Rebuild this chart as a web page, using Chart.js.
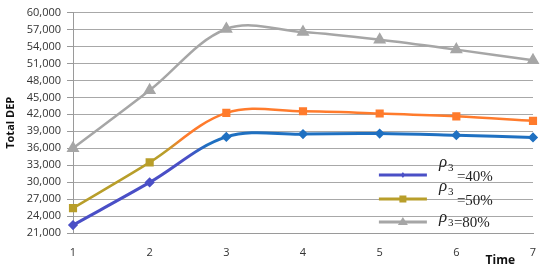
<!DOCTYPE html>
<html>
<head>
<meta charset="utf-8">
<script src="https://cdn.jsdelivr.net/npm/chart.js@4"></script>
<style>
  html, body { margin: 0; padding: 0; background: #fff; }
  #wrap { width: 550px; height: 273px; }
</style>
</head>
<body>
<div id="wrap"><canvas id="myChart"></canvas></div>
<script>
const times = ['1', '2', '3', '4', '5', '6', '7'];
const dep40 = [22400, 29950, 38000, 38500, 38600, 38300, 37900];
const dep50 = [25400, 33500, 42250, 42550, 42150, 41650, 40850];
const dep80 = [36000, 46250, 57100, 56550, 55200, 53450, 51550];
const shares = ['=40%', '=50%', '=80%'];
const xTitle = 'Time';
const yTitle = 'Total DEP';

// left part of the picture is tinted differently from the right part
const leftCols = ['#4a4fc6', '#b89e2a', '#a6a6a6'];
const rightCols = ['#1f70c1', '#ff7b2c', '#a6a6a6'];

function strokeGrad(i) {
  return function (ctx) {
    const chart = ctx.chart;
    const area = chart.chartArea;
    if (!area) return rightCols[i];
    const g = chart.ctx.createLinearGradient(area.left, 0, area.right, 0);
    const cut = i === 0 ? 0.27 : 0.22;
    g.addColorStop(0, leftCols[i]);
    g.addColorStop(cut - 0.02, leftCols[i]);
    g.addColorStop(cut + 0.02, rightCols[i]);
    g.addColorStop(1, rightCols[i]);
    return g;
  };
}

function pointCol(i) {
  return function (ctx) {
    return ctx.dataIndex < 2 ? leftCols[i] : rightCols[i];
  };
}

const rhoLegend = {
  id: 'rhoLegend',
  afterDraw(chart) {
    const c = chart.ctx;
    const a = chart.chartArea;
    const x0 = a.left + (a.right - a.left) * 0.665;
    const x1 = x0 + 48;
    const rows = [175, 199, 222];
    chart.data.datasets.forEach((ds, i) => {
      const y = rows[i];
      c.save();
      c.strokeStyle = leftCols[i];
      c.lineWidth = 3;
      c.beginPath();
      c.moveTo(x0, y);
      c.lineTo(x1, y);
      c.stroke();
      c.fillStyle = leftCols[i];
      const mx = (x0 + x1) / 2;
      if (ds.pointStyle === 'rect') {
        c.fillRect(mx - 3.5, y - 3.5, 7, 7);
      } else if (ds.pointStyle === 'triangle') {
        c.beginPath();
        c.moveTo(mx, y - 5);
        c.lineTo(mx + 5, y + 3);
        c.lineTo(mx - 5, y + 3);
        c.closePath();
        c.fill();
      } else {
        c.beginPath();
        c.moveTo(mx, y - 3);
        c.lineTo(mx + 2, y);
        c.lineTo(mx, y + 3);
        c.lineTo(mx - 2, y);
        c.closePath();
        c.fill();
      }
      c.fillStyle = '#222';
      c.textBaseline = 'middle';
      c.font = 'italic 17px "Liberation Serif"';
      const ry = i === 2 ? y - 4 : y - 12;
      c.fillText('\u03c1', x1 + 12, ry);
      c.font = '11px "Liberation Serif"';
      c.fillText('3', x1 + 21, ry + 5);
      c.font = '15px "Liberation Serif"';
      c.fillText(shares[i], x1 + (i === 2 ? 27 : 30), i === 2 ? y + 1 : y + 2);
      c.restore();
    });

    // x axis title, sitting just left of the last category
    c.save();
    c.font = 'bold 12px "Open Sans"';
    c.fillStyle = '#111';
    c.textAlign = 'right';
    c.textBaseline = 'middle';
    c.fillText(xTitle, a.right - 18, 261);
    c.restore();
  }
};

new Chart(document.getElementById('myChart'), {
  type: 'line',
  data: {
    labels: times,
    datasets: [{
      label: shares[0],
      data: dep40,
      borderColor: strokeGrad(0),
      backgroundColor: pointCol(0),
      pointBackgroundColor: pointCol(0),
      pointBorderColor: pointCol(0),
      borderWidth: 3,
      pointStyle: 'rectRot',
      pointRadius: 3,
      tension: 0.35,
      order: 3
    }, {
      label: shares[1],
      data: dep50,
      borderColor: strokeGrad(1),
      backgroundColor: pointCol(1),
      pointBackgroundColor: pointCol(1),
      pointBorderColor: pointCol(1),
      borderWidth: 2.5,
      pointStyle: 'rect',
      pointRadius: 4,
      tension: 0.35,
      order: 2
    }, {
      label: shares[2],
      data: dep80,
      borderColor: strokeGrad(2),
      backgroundColor: pointCol(2),
      pointBackgroundColor: pointCol(2),
      pointBorderColor: pointCol(2),
      borderWidth: 2.5,
      pointStyle: 'triangle',
      pointRadius: 5,
      tension: 0.35,
      order: 1
    }]
  },
  options: {
    responsive: true,
    maintainAspectRatio: false,
    animation: false,
    layout: { padding: { top: 6, right: 17, left: 0, bottom: 0 } },
    plugins: {
      legend: { display: false },
      tooltip: { enabled: false }
    },
    scales: {
      x: {
        offset: false,
        grid: { display: false },
        border: { display: true, color: '#9a9a9a', width: 1 },
        ticks: { color: '#333', padding: 5, font: { family: 'Open Sans', size: 11 } },
        afterFit(scale) { scale.height = 40; }
      },
      y: {
        min: 21000,
        max: 60000,
        ticks: {
          stepSize: 3000,
          color: '#333',
          padding: 6,
          font: { family: 'Open Sans', size: 11 },
          callback: v => v.toLocaleString('en-US')
        },
        grid: { color: '#a8a8a8', tickLength: 6, tickColor: '#9a9a9a' },
        border: { display: true, color: '#9a9a9a' },
        title: {
          display: true,
          text: yTitle,
          color: '#111',
          padding: { top: 4, bottom: 4 },
          font: { family: 'Open Sans', size: 11, weight: 'bold' }
        },
        afterFit(scale) { scale.width = 73; }
      }
    }
  },
  plugins: [rhoLegend]
});
</script>
</body>
</html>
